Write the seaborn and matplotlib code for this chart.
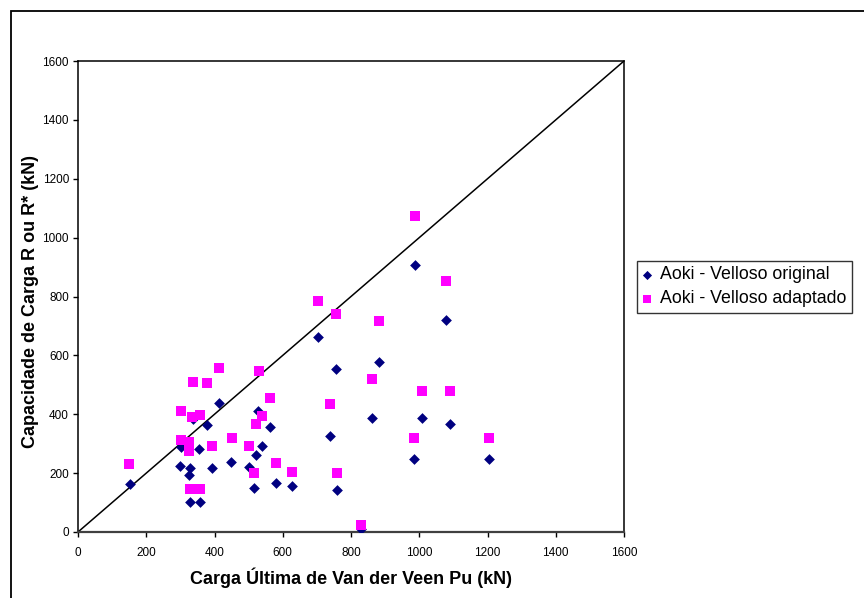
import matplotlib
matplotlib.use("Agg")
import matplotlib.pyplot as plt
from matplotlib.patches import Rectangle
import seaborn as sns
import pandas as pd

# Aoki-Velloso (original formulation): Van der Veen ultimate load vs. bearing capacity
orig_pu = [152, 412, 528, 563, 337, 378, 303, 356, 540, 522, 299, 327, 326, 393,
           449, 500, 579, 516, 628, 327, 357, 704, 756, 882, 863, 1007, 1091, 738,
           986, 1204, 758, 828, 989, 1078]
orig_r = [163, 439, 412, 356, 383, 362, 290, 281, 293, 263, 225, 218, 194, 217,
          238, 221, 166, 150, 155, 103, 103, 662, 553, 576, 387, 387, 368, 326,
          247, 247, 142, 10, 906, 720]

# Aoki-Velloso (adapted formulation)
adap_pu = [150, 412, 529, 338, 378, 563, 303, 334, 357, 540, 522, 301, 326, 326,
           393, 450, 501, 579, 516, 628, 328, 357, 863, 1007, 1091, 737, 986, 1204,
           758, 829, 989, 1078, 703, 756, 883]
adap_r = [231, 558, 547, 511, 507, 455, 410, 390, 396, 394, 367, 312, 307, 275,
          292, 318, 292, 234, 201, 205, 147, 147, 519, 478, 479, 436, 319, 321,
          201, 23, 1075, 853, 784, 739, 716]

series_names = ["Aoki - Velloso original", "Aoki - Velloso adaptado"]
axis_ticks = [0, 200, 400, 600, 800, 1000, 1200, 1400, 1600]

sns.set_style("white")
plt.rcParams["font.family"] = ["Liberation Sans", "DejaVu Sans"]
plt.rcParams.update({"text.color": "black", "axes.labelcolor": "black",
                     "xtick.color": "black", "ytick.color": "black"})

W, H = 864, 598
fig = plt.figure(figsize=(W / 100, H / 100), dpi=100)
ax = fig.add_axes([78 / W, 1 - 532 / H, (624 - 78) / W, (532 - 61) / H])

df_orig = pd.DataFrame({"Pu": orig_pu, "R": orig_r})
df_adap = pd.DataFrame({"Pu": adap_pu, "R": adap_r})

# 1:1 reference line
ax.plot([axis_ticks[0], axis_ticks[-1]], [axis_ticks[0], axis_ticks[-1]],
        color="black", lw=1.1, zorder=2)

sns.scatterplot(data=df_orig, x="Pu", y="R", marker="D", s=30, color="#000080",
                linewidth=0, label=series_names[0], ax=ax, zorder=3)
sns.scatterplot(data=df_adap, x="Pu", y="R", marker="s", s=42, color="#FF00FF",
                linewidth=0, label=series_names[1], ax=ax, zorder=4)

ax.set_xlim(axis_ticks[0], axis_ticks[-1])
ax.set_ylim(axis_ticks[0], axis_ticks[-1])
ax.set_xticks(axis_ticks)
ax.set_yticks(axis_ticks)
ax.tick_params(axis="both", which="major", labelsize=8.5, direction="out",
               length=3.5, width=1, color="black", labelcolor="black",
               bottom=True, left=True)
ax.tick_params(axis="x", pad=7)
ax.tick_params(axis="y", pad=3)

for side in ["top", "right", "left"]:
    ax.spines[side].set_color("black")
    ax.spines[side].set_linewidth(1.1)
ax.spines["bottom"].set_color("#404040")
ax.spines["bottom"].set_linewidth(1.6)

ax.set_xlabel("Carga Última de Van der Veen Pu (kN)", fontsize=13,
              fontweight="bold", va="center", color="black")
ax.set_ylabel("Capacidade de Carga R ou R* (kN)", fontsize=13,
              fontweight="bold", va="center", color="black")
ax.xaxis.set_label_coords((351 - 78) / 546, (532 - 578) / 471)
ax.yaxis.set_label_coords((31 - 78) / 546, (532 - 302) / 471)

leg = ax.legend(loc="upper left", bbox_to_anchor=(637 / W, 1 - 261 / H),
                bbox_transform=fig.transFigure, frameon=True, fancybox=False,
                edgecolor="black", fontsize=12.8, borderaxespad=0,
                handlelength=0.55, handletextpad=0.45, borderpad=0.3,
                labelspacing=0.4, markerscale=0.85)
leg.get_frame().set_linewidth(1.0)
for txt in leg.get_texts():
    txt.set_color("black")

# outer chart-area frame
fig.add_artist(Rectangle((11 / W, -0.1), 1.2, 1.1 - 11 / H,
                         transform=fig.transFigure, fill=False,
                         edgecolor="black", lw=1.3))

fig.savefig("out.png", dpi=100)
